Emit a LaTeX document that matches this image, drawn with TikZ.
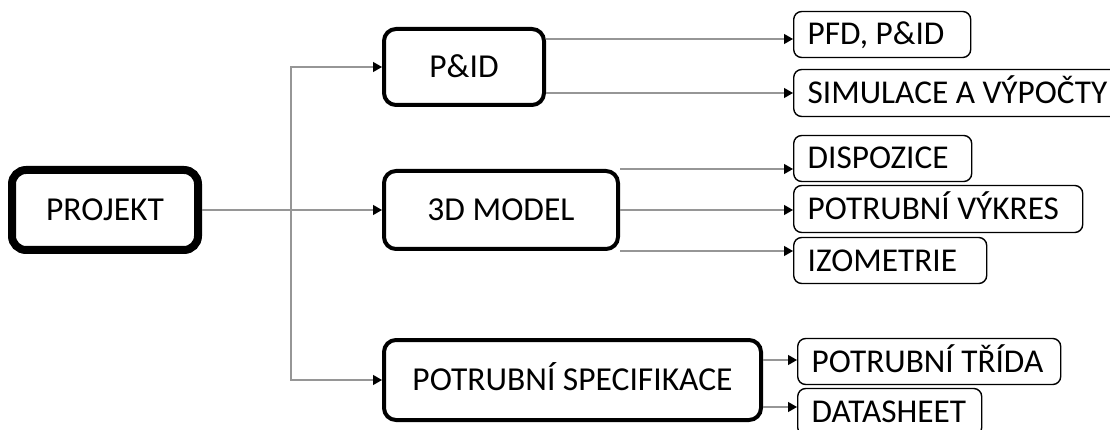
\documentclass[tikz,border=0pt]{standalone}
\usepackage{fontspec}
\setmainfont{Carlito}
\usetikzlibrary{arrows.meta,calc}
\definecolor{conngray}{RGB}{150,150,150}
\begin{document}
\begin{tikzpicture}[x=1pt,y=-1pt,
  mainbox/.style={draw, line width=4pt, rounded corners=12pt, inner sep=0pt,
    font=\fontsize{33.5}{38}\selectfont, text height=21pt, text depth=0pt},
  rootbox/.style={mainbox, line width=8pt, rounded corners=14pt},
  leafbox/.style={draw, line width=1.4pt, rounded corners=8pt, anchor=west,
    inner xsep=14pt, inner ysep=0pt, align=flush left,
    font=\fontsize{33.3}{38}\selectfont, text height=21pt, text depth=0pt},
  conn/.style={draw=conngray, line width=1.2pt,
    -{Triangle[length=9pt,width=10pt,color=black]}}
]
\useasboundingbox (0,0) rectangle (1110,430);

% main nodes
\node[rootbox, minimum width=186pt, minimum height=80pt] (proj) at (105,210) {PROJEKT};
\node[mainbox, minimum width=160pt, minimum height=76pt] (pid) at (464,67) {P\&ID};
\node[mainbox, minimum width=234pt, minimum height=78pt] (m3d) at (501,210) {3D MODEL};
\node[mainbox, minimum width=377pt, minimum height=80pt] (spec) at (572.5,380) {POTRUBNÍ SPECIFIKACE};

% leaves
\node[leafbox, text width=149pt, minimum height=46pt] (pfd) at (793,34.5) {\mbox{PFD, P\&ID}};
\node[leafbox, text width=297pt, minimum height=47pt] (sim) at (793,93) {\mbox{SIMULACE A VÝPOČTY}};
\node[leafbox, text width=150pt, minimum height=46pt] (disp) at (793,158.5) {\mbox{DISPOZICE}};
\node[leafbox, text width=261pt, minimum height=47pt] (vyk) at (793,209) {\mbox{POTRUBNÍ VÝKRES}};
\node[leafbox, text width=165pt, minimum height=46pt] (izo) at (793,260.5) {\mbox{IZOMETRIE}};
\node[leafbox, text width=235pt, minimum height=46pt] (trida) at (797,361.5) {\mbox{POTRUBNÍ TŘÍDA}};
\node[leafbox, text width=156pt, minimum height=47pt] (data) at (797,412) {\mbox{DATASHEET}};

% trunk
\coordinate (j) at (291,210);
\draw[conn] (proj.east) -- (m3d.west);
\draw[conn] (j) |- (pid.west);
\draw[conn] (j) |- (spec.west);

% P&ID outputs
\coordinate (a1) at ($(pfd.west)+(0,4.5)$);
\coordinate (a2) at (sim.west);
\draw[conn] (a1 -| pid.east) -- (a1);
\draw[conn] (a2 -| pid.east) -- (a2);

% 3D model outputs
\coordinate (b1) at ($(disp.west)+(0,10.5)$);
\coordinate (b2) at ($(vyk.west)+(0,1)$);
\coordinate (b3) at ($(izo.west)+(0,-9.5)$);
\draw[conn] (b1 -| m3d.east) -- (b1);
\draw[conn] (b2 -| m3d.east) -- (b2);
\draw[conn] (b3 -| m3d.east) -- (b3);

% specification outputs
\coordinate (c1) at ($(trida.west)+(0,-1.5)$);
\coordinate (c2) at ($(data.west)+(0,-5)$);
\draw[conn] (c1 -| spec.east) -- (c1);
\draw[conn] (c2 -| spec.east) -- (c2);
\end{tikzpicture}
\end{document}
